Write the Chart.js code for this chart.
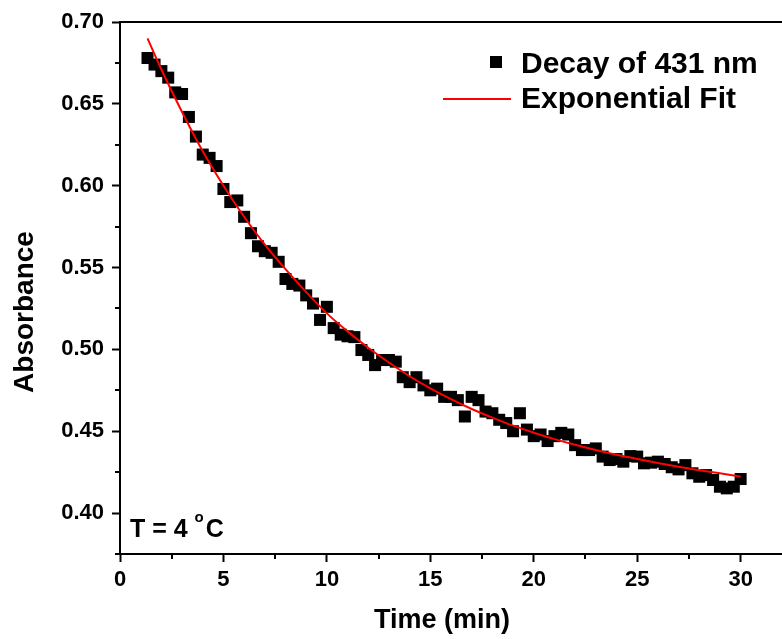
<!DOCTYPE html>
<html>
<head>
<meta charset="utf-8">
<script src="https://cdn.jsdelivr.net/npm/chart.js@4.4.0/dist/chart.umd.min.js"></script>
<style>
  html, body { margin: 0; padding: 0; background: #fff; }
  #wrap { width: 782px; height: 639px; }
</style>
</head>
<body>
<div id="wrap"><canvas id="decayChart" width="782" height="639"></canvas></div>
<script>
// measured points, one every 20 s
const timeMin = [
    1.33, 1.67, 2.00, 2.33, 2.67, 3.00, 3.33, 3.67, 4.00, 4.33,
    4.67, 5.00, 5.33, 5.67, 6.00, 6.33, 6.67, 7.00, 7.33, 7.67,
    8.00, 8.33, 8.67, 9.00, 9.33, 9.67, 10.00, 10.33, 10.67, 11.00,
    11.33, 11.67, 12.00, 12.33, 12.67, 13.00, 13.33, 13.67, 14.00, 14.33,
    14.67, 15.00, 15.33, 15.67, 16.00, 16.33, 16.67, 17.00, 17.33, 17.67,
    18.00, 18.33, 18.67, 19.00, 19.33, 19.67, 20.00, 20.33, 20.67, 21.00,
    21.33, 21.67, 22.00, 22.33, 22.67, 23.00, 23.33, 23.67, 24.00, 24.33,
    24.67, 25.00, 25.33, 25.67, 26.00, 26.33, 26.67, 27.00, 27.33, 27.67,
    28.00, 28.33, 28.67, 29.00, 29.33, 29.67, 30.00
];
const absorbance = [
    0.678, 0.674, 0.670, 0.666, 0.657, 0.656, 0.642, 0.630, 0.619, 0.617,
    0.612, 0.598, 0.590, 0.591, 0.581, 0.571, 0.563, 0.560, 0.559, 0.5535,
    0.543, 0.540, 0.539, 0.533, 0.528, 0.518, 0.526, 0.513, 0.509, 0.508,
    0.5075, 0.4996, 0.4966, 0.4904, 0.4935, 0.4935, 0.4925, 0.483, 0.480, 0.483,
    0.478, 0.475, 0.476, 0.471, 0.471, 0.469, 0.459, 0.471, 0.469, 0.462,
    0.461, 0.457, 0.455, 0.450, 0.461, 0.451, 0.447, 0.448, 0.444, 0.447,
    0.449, 0.448, 0.4415, 0.4385, 0.4385, 0.4395, 0.4345, 0.4324, 0.433, 0.4314,
    0.4348, 0.4345, 0.4304, 0.4308, 0.4314, 0.430, 0.428, 0.4267, 0.4293, 0.4243,
    0.4222, 0.4232, 0.4202, 0.4161, 0.4151, 0.4161, 0.4208
];

// exponential fit curve
const fitTime = [1.33, 2, 3, 4, 5, 6, 7, 8, 9, 10, 11, 12, 13, 14, 15, 16,
    17, 18, 19, 20, 21, 22, 23, 24, 25, 26, 27, 28, 29, 30];
const fitAbs = [0.690, 0.671, 0.645, 0.621, 0.600, 0.581, 0.564, 0.549, 0.535, 0.522,
    0.511, 0.501, 0.492, 0.4836, 0.4762, 0.4696, 0.4636, 0.4583, 0.4534, 0.4491,
    0.4452, 0.4417, 0.4385, 0.4356, 0.4331, 0.4306, 0.4283, 0.4262, 0.4243, 0.4222];

const seriesNames = ['Decay of 431 nm', 'Exponential Fit'];
const xTitle = 'Time (min)';
const yTitle = 'Absorbance';
const FONT = '"Liberation Sans", Arial, sans-serif';

function isMajor(v, step) {
    return Math.abs(v / step - Math.round(v / step)) < 1e-6;
}

// minor ticks, top frame line, axis titles, legend and temperature note
const extras = {
    id: 'extras',
    afterDraw(chart) {
        const { ctx, chartArea, scales } = chart;
        const xs = scales.x, ys = scales.y;
        ctx.save();
        ctx.strokeStyle = '#000';
        ctx.lineWidth = 2;
        ctx.beginPath();
        xs.ticks.forEach(t => {
            if (isMajor(t.value, 5)) return;
            const px = Math.round(xs.getPixelForValue(t.value));
            ctx.moveTo(px, chartArea.bottom);
            ctx.lineTo(px, chartArea.bottom + 5);
        });
        ys.ticks.forEach(t => {
            if (isMajor(t.value, 0.05)) return;
            const py = Math.round(ys.getPixelForValue(t.value));
            ctx.moveTo(chartArea.left, py);
            ctx.lineTo(chartArea.left - 5, py);
        });
        // top border
        ctx.moveTo(chartArea.left, chartArea.top);
        ctx.lineTo(chartArea.right, chartArea.top);
        ctx.stroke();

        ctx.fillStyle = '#000';
        ctx.textAlign = 'center';
        ctx.textBaseline = 'middle';
        ctx.font = 'bold 27px ' + FONT;
        ctx.fillText(xTitle, 442, 621);
        ctx.save();
        ctx.translate(25, 312);
        ctx.rotate(-Math.PI / 2);
        ctx.font = 'bold 28px ' + FONT;
        ctx.fillText(yTitle, 0, 0);
        ctx.restore();

        // legend
        const lx = chartArea.right - 261;
        ctx.fillRect(lx - 31, 56, 12, 12);
        ctx.strokeStyle = '#ff0000';
        ctx.beginPath();
        ctx.moveTo(lx - 78, 99);
        ctx.lineTo(lx - 10, 99);
        ctx.stroke();
        ctx.font = 'bold 30px ' + FONT;
        ctx.textBaseline = 'alphabetic';
        ctx.textAlign = 'left';
        ctx.fillText(seriesNames[0], lx, 73);
        ctx.fillText(seriesNames[1], lx, 108);

        // T = 4 °C
        const tx = chartArea.left + 10, ty = chartArea.bottom - 17;
        ctx.font = 'bold 25px ' + FONT;
        ctx.fillText('T = 4 ', tx, ty);
        let w = ctx.measureText('T = 4 ').width;
        ctx.font = 'bold 15px ' + FONT;
        ctx.fillText('o', tx + w, ty - 15);
        w += ctx.measureText('o').width + 2;
        ctx.font = 'bold 25px ' + FONT;
        ctx.fillText('C', tx + w, ty);
        ctx.restore();
    }
};

const ctx = document.getElementById('decayChart').getContext('2d');
const chart = new Chart(ctx, {
    type: 'scatter',
    data: {
        datasets: [{
            label: seriesNames[1],
            type: 'line',
            data: fitTime.map((t, i) => ({ x: t, y: fitAbs[i] })),
            borderColor: '#ff0000',
            borderWidth: 2,
            pointRadius: 0,
            fill: false,
            cubicInterpolationMode: 'monotone',
            order: 0
        }, {
            label: seriesNames[0],
            data: timeMin.map((t, i) => ({ x: t, y: absorbance[i] })),
            pointStyle: 'rect',
            pointRadius: 8.5,
            backgroundColor: '#000',
            borderColor: '#000',
            borderWidth: 0,
            order: 1
        }]
    },
    options: {
        responsive: false,
        animation: false,
        devicePixelRatio: 1,
        layout: { autoPadding: false, padding: { top: 22, right: 0, left: 0, bottom: 0 } },
        plugins: {
            legend: { display: false },
            tooltip: { enabled: false }
        },
        scales: {
            x: {
                type: 'linear',
                min: 0,
                max: 32,
                afterFit: scale => { scale.height = 85; },
                border: { color: '#000', width: 2 },
                grid: {
                    drawOnChartArea: false,
                    tickLength: 8,
                    tickWidth: 2,
                    tickColor: c => isMajor(c.tick.value, 5) ? '#000' : 'rgba(0,0,0,0)'
                },
                ticks: {
                    stepSize: 2.5,
                    includeBounds: false,
                    maxRotation: 0,
                    padding: 5,
                    color: '#000',
                    font: { family: FONT, size: 22, weight: 'bold' },
                    callback: v => isMajor(v, 5) ? String(Math.round(v)) : ''
                }
            },
            y: {
                min: 0.375,
                max: 0.70,
                afterFit: scale => { scale.width = 120; },
                border: { color: '#000', width: 2 },
                grid: {
                    drawOnChartArea: false,
                    tickLength: 8,
                    tickWidth: 2,
                    tickColor: c => isMajor(c.tick.value, 0.05) ? '#000' : 'rgba(0,0,0,0)'
                },
                ticks: {
                    stepSize: 0.025,
                    includeBounds: false,
                    padding: 8,
                    color: '#000',
                    font: { family: FONT, size: 22, weight: 'bold' },
                    callback: v => isMajor(v, 0.05) ? v.toFixed(2) : ''
                }
            }
        }
    },
    plugins: [extras]
});
</script>
</body>
</html>
